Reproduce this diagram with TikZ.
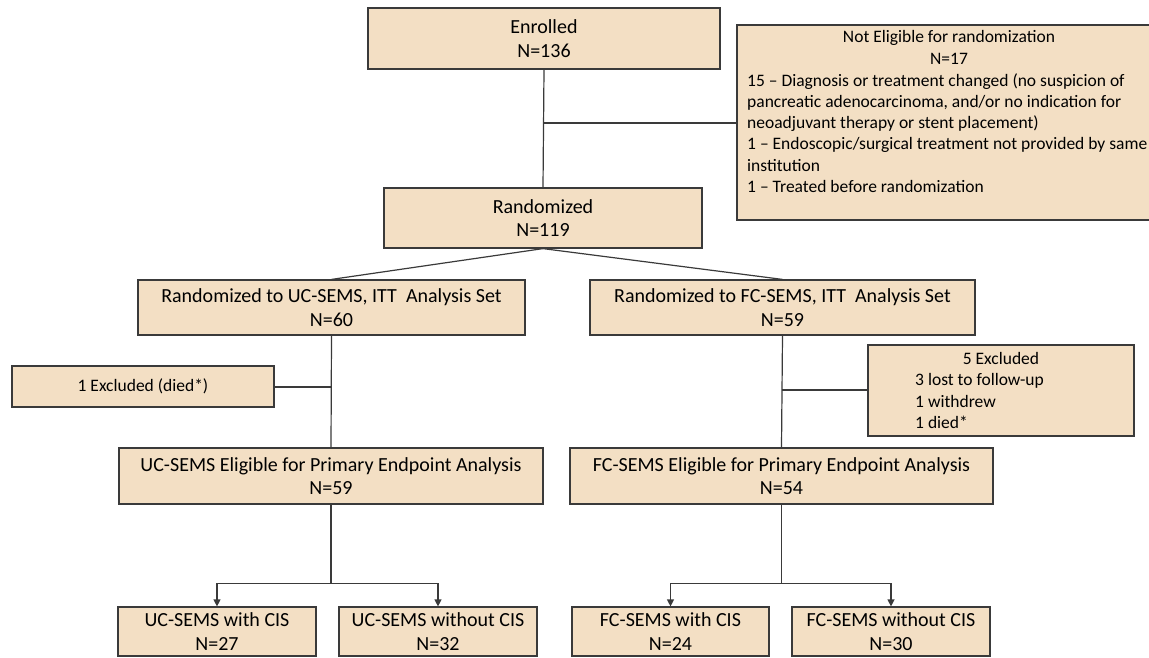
\documentclass[tikz,border=0pt]{standalone}
\usepackage{fontspec}
\setmainfont{Carlito}
\usetikzlibrary{arrows.meta}
\definecolor{boxfill}{HTML}{F3DFC4}
\definecolor{boxline}{HTML}{3A3A3A}
\newcommand{\bigtxt}{\fontsize{20}{23.5}\selectfont}
\newcommand{\smalltxt}{\fontsize{17.5}{21.3}\selectfont}
\tikzset{
  box/.style={draw=boxline, fill=boxfill, line width=1.2pt, inner sep=0pt,
    align=center, font=\bigtxt},
  note/.style={inner sep=0pt, font=\smalltxt},
  link/.style={draw=boxline, line width=1.2pt},
  arr/.style={link, -{Triangle[length=7pt,width=7pt]}}
}
\begin{document}
\begin{tikzpicture}[x=1pt,y=-1pt]
\useasboundingbox (0,0) rectangle (1149,657);

% main column
\node[box, minimum width=352, minimum height=61] (enr) at (544,38.5) {Enrolled\\N=136};
\node[box, minimum width=318, minimum height=60] (rand) at (543,218) {Randomized\\N=119};
\node[box, minimum width=428, minimum height=195] (ne) at (951,122.5) {};
\node[note, align=center] (neh) at (949,47.5) {Not Eligible for randomization\\N=17};
\node[note, align=left, anchor=west] (nel) at (747,133) {15 -- Diagnosis or treatment changed (no suspicion of\\
pancreatic adenocarcinoma, and/or no indication for\\
neoadjuvant therapy or stent placement)\\
1 -- Endoscopic/surgical treatment not provided by same\\
institution\\
1 -- Treated before randomization};

% analysis sets
\node[box, minimum width=387, minimum height=55] (uc) at (331.5,307.5) {Randomized to UC-SEMS, ITT\ \ Analysis Set\\N=60};
\node[box, minimum width=385, minimum height=55] (fc) at (782.5,307.5) {Randomized to FC-SEMS, ITT\ \ Analysis Set\\N=59};

% exclusions
\node[box, font=\smalltxt, minimum width=262, minimum height=41] (ex1) at (143,386.5) {1 Excluded (died*)};
\node[box, minimum width=266, minimum height=91] (ex5) at (1001,390.5) {};
\node[note] (ex5h) at (1001,358) {5 Excluded};
\node[note, align=left, anchor=west] (ex5l) at (915,401) {3 lost to follow-up\\1 withdrew\\1 died*};

% primary endpoint sets
\node[box, minimum width=424, minimum height=56] (ucE) at (331,476) {UC-SEMS Eligible for Primary Endpoint Analysis\\N=59};
\node[box, minimum width=423, minimum height=56] (fcE) at (781.5,476) {FC-SEMS Eligible for Primary Endpoint Analysis\\N=54};

% CIS subgroups
\node[box, minimum width=198, minimum height=49] (ucw) at (217,631.5) {UC-SEMS with CIS\\N=27};
\node[box, minimum width=198, minimum height=49] (ucwo) at (438,631.5) {UC-SEMS without CIS\\N=32};
\node[box, minimum width=197, minimum height=49] (fcw) at (670.5,631.5) {FC-SEMS with CIS\\N=24};
\node[box, minimum width=198, minimum height=49] (fcwo) at (891,631.5) {FC-SEMS without CIS\\N=30};

% connectors
\coordinate (j0) at (543,123);
\draw[link] (enr.south) -- (rand.north);
\draw[link] (j0) -- (j0 -| ne.west);
\draw[link] (rand.south) -- (uc.north);
\draw[link] (rand.south) -- (fc.north);

\coordinate (j1) at (331,387);
\draw[link] (uc.south) -- (ucE.north);
\draw[link] (j1) -- (j1 -| ex1.east);
\coordinate (j2) at (781.5,390);
\draw[link] (fc.south) -- (fcE.north);
\draw[link] (j2) -- (j2 -| ex5.west);

\coordinate (s1) at (331,583.5);
\draw[link] (ucE.south) -- (s1);
\draw[arr] (s1) -| (ucw.north);
\draw[arr] (s1) -| (ucwo.north);
\coordinate (s2) at (781.5,583.5);
\draw[link] (fcE.south) -- (s2);
\draw[arr] (s2) -| (fcw.north);
\draw[arr] (s2) -| (fcwo.north);
\end{tikzpicture}
\end{document}
